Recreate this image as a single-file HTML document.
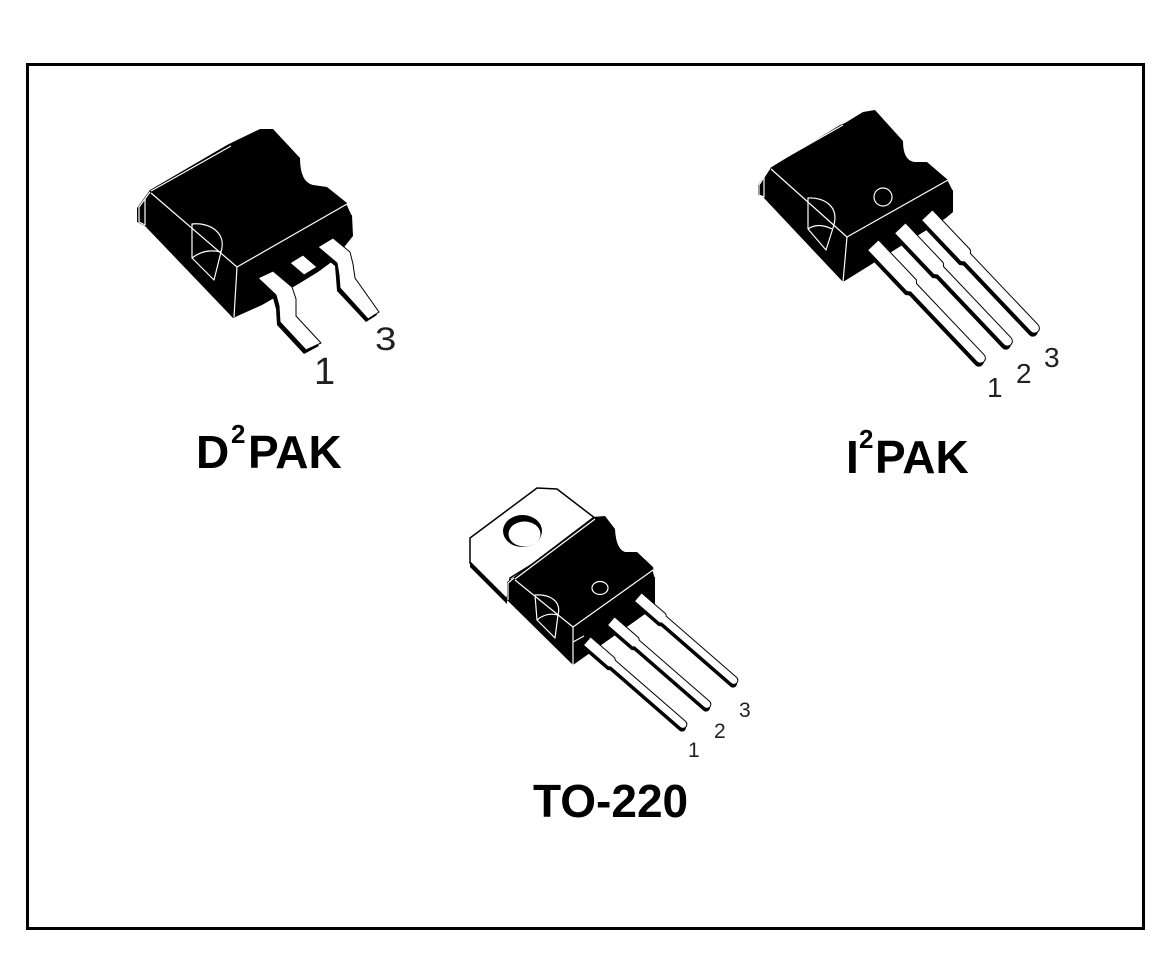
<!DOCTYPE html>
<html>
<head>
<meta charset="utf-8">
<style>
  html,body{margin:0;padding:0;background:#fff;}
  body{width:1176px;height:962px;overflow:hidden;}
  svg{display:block;}
  .t{font-family:"Liberation Sans",Arial,sans-serif;font-weight:bold;fill:#000;}
  .n{font-family:"Liberation Sans",Arial,sans-serif;fill:#231f20;}
</style>
</head>
<body>
<svg width="1176" height="962" viewBox="0 0 1176 962" xmlns="http://www.w3.org/2000/svg">
  <rect x="0" y="0" width="1176" height="962" fill="#fff"/>
  <!-- frame -->
  <rect x="27.5" y="64.5" width="1116" height="864" fill="none" stroke="#000" stroke-width="3"/>

  <!-- ================= D2PAK ================= -->
  <g>
    <path d="M260,129 L273,129 L300,158 Q300,182 313,185 L327,187 L347,203 L352,215 L353,236 L345,246 L337,258 L318,272 L300,283 L283,293 L262,305 L233,318 L145,226 L137,222 L137,208 L150,190 L227,145 L233,142 Z" fill="#000"/>
    <g fill="none" stroke="#fff" stroke-width="1.2" stroke-linejoin="round">
      <path d="M151,191 L231,146"/>
      <path d="M151,193 L237,267"/>
      <path d="M237,267 L347,204 L352,215"/>
      <path d="M237,267 L234,317"/>
      <path d="M150,192 L139,207 L139,222 L145,225 L145,199"/>
      <path d="M192,224 C210,222 227,233 221,252 L214,280 L192,258 Z"/>
      <path d="M192,258 Q205,248 221,252"/>
      <path d="M301,160 Q302,180 313,184" stroke-width="1"/>
    </g>
    <!-- lead 3 -->
    <path d="M316,250 L331,241 L348,255 L351,267 L353,281 L377,315 L366,322 L337,291 L336,278 L335,266 Z" fill="#000"/>
    <path d="M318,247 L333,238 L350,252 L353,264 L355,278 L379,312 L368,319 L340,288 L339,275 L337,263 Z" fill="#fff" stroke="#000" stroke-width="1"/>
    <!-- center tab -->
    <path d="M290,263 L304,276 L317,268 L317,272 L304,280 L290,267 Z" fill="#000"/>
    <path d="M290,263 L303,255 L317,267 L304,275 Z" fill="#fff" stroke="#000" stroke-width="1"/>
    <!-- lead 1 -->
    <path d="M256,281 L271,274 L290,290 L294,302 L294,319 L319,346 L304,354 L277,325 L276,309 L273,298 Z" fill="#000"/>
    <path d="M258,278 L273,271 L292,287 L296,299 L296,316 L321,343 L306,350 L280,322 L279,306 L276,295 Z" fill="#fff" stroke="#000" stroke-width="1"/>
    <text class="n" x="0" y="0" font-size="32" transform="translate(375,350) scale(1.2,1)">3</text>
    <text class="n" x="314" y="384" font-size="38">1</text>
  </g>
  <text class="t" x="196" y="468" font-size="46">D</text>
  <text class="t" x="231" y="443" font-size="26">2</text>
  <text class="t" x="248" y="468" font-size="46">PAK</text>

  <!-- ================= I2PAK ================= -->
  <g>
    <path d="M863,112 L875,110 L903,141 Q903,160 914,162 L927,162 L948,180 L953,190 L953,212 L946,218 L843,282 L763,197 L758,195 L758,185 L770,168 L840,125 L845,123 Z" fill="#000"/>
    <g fill="none" stroke="#fff" stroke-width="1.2" stroke-linejoin="round">
      <path d="M771,166 L843,125"/>
      <path d="M771,169 L847,237"/>
      <path d="M847,237 L948,180 L953,190"/>
      <path d="M847,237 L843,282"/>
      <path d="M770,168 L759,185 L759,195 L764,197 L764,176"/>
      <path d="M808,198 C822,197 841,205 833,228 L826,250 L808,229 Z"/>
      <path d="M808,229 Q818,222 832,229"/>
      <circle cx="883" cy="197" r="9"/>
      <path d="M904,143 Q905,160 914,161" stroke-width="1"/>
    </g>
    <!-- leads: 3,2,1 -->
    <g transform="translate(927,215) rotate(46.5)">
      <path d="M0,-7.5 L55,-7.5 L58,-5 L156,-5 A5,5 0 0 1 156,5 L60,5 L57,7.5 L0,7.5 Z" fill="#000" transform="translate(1.5,3.5)"/>
      <path d="M0,-7.5 L55,-7.5 L58,-5 L156,-5 A5,5 0 0 1 156,5 L60,5 L57,7.5 L0,7.5 Z" fill="#fff" stroke="#000" stroke-width="1"/>
    </g>
    <g transform="translate(900,228) rotate(46.5)">
      <path d="M0,-7.5 L55,-7.5 L58,-5 L156,-5 A5,5 0 0 1 156,5 L60,5 L57,7.5 L0,7.5 Z" fill="#000" transform="translate(1.5,3.5)"/>
      <path d="M0,-7.5 L55,-7.5 L58,-5 L156,-5 A5,5 0 0 1 156,5 L60,5 L57,7.5 L0,7.5 Z" fill="#fff" stroke="#000" stroke-width="1"/>
    </g>
    <g transform="translate(873,245) rotate(46.5)">
      <path d="M0,-7.5 L55,-7.5 L58,-5 L156,-5 A5,5 0 0 1 156,5 L60,5 L57,7.5 L0,7.5 Z" fill="#000" transform="translate(1.5,3.5)"/>
      <path d="M0,-7.5 L55,-7.5 L58,-5 L156,-5 A5,5 0 0 1 156,5 L60,5 L57,7.5 L0,7.5 Z" fill="#fff" stroke="#000" stroke-width="1"/>
    </g>
    <text class="n" x="987" y="397" font-size="28">1</text>
    <text class="n" x="1016" y="383" font-size="28">2</text>
    <text class="n" x="1044" y="367" font-size="28">3</text>
  </g>
  <text class="t" x="846" y="473" font-size="46">I</text>
  <text class="t" x="859" y="448" font-size="26">2</text>
  <text class="t" x="875" y="473" font-size="46">PAK</text>

  <!-- ================= TO-220 ================= -->
  <g>
    <!-- tab -->
    <path d="M470,538 L537,488 L557,489 L600,522 L510,578 L507,600 L470,563 Z" fill="#fff" stroke="#000" stroke-width="1.5" stroke-linejoin="round"/>
    <path d="M470,561 L507,598 L507,604 L470,567 Z" fill="#000"/>
    <ellipse cx="522.5" cy="531" rx="19.5" ry="16" fill="#000"/>
    <ellipse cx="524.5" cy="534" rx="16" ry="12.5" fill="#fff"/>
    <!-- body -->
    <path d="M593,517 L605,516 L615,529 Q616,549 625,552 L637,552 L653,567 L655,577 L655,607 L573,665 L507,600 L507,582 L514,577 Z" fill="#000"/>
    <g fill="none" stroke="#fff" stroke-width="1.2" stroke-linejoin="round">
      <path d="M515,579 L595,519"/>
      <path d="M515,580 L573,627"/>
      <path d="M573,627 L653,570 L655,577"/>
      <path d="M573,627 L573,665"/>
      <path d="M573,642 L584,636"/>
      <path d="M514,578 L508,583 L508,600"/>
      <path d="M535,595 C548,594 562,600 558,615 L555,638 L537,620 Z"/>
      <path d="M537,620 Q546,612 558,615"/>
      <ellipse cx="600" cy="588" rx="8" ry="6.5"/>
      <path d="M616,531 Q617,548 625,551" stroke-width="1"/>
    </g>
    <!-- leads 3,2,1 -->
    <g transform="translate(638,597) rotate(41)">
      <path d="M0,-5.5 L32,-5.5 L34,-4 L127,-4 A4,4 0 0 1 127,4 L35,4 L33,5.5 L0,5.5 Z" fill="#000" transform="translate(1.5,3)"/>
      <path d="M0,-5.5 L32,-5.5 L34,-4 L127,-4 A4,4 0 0 1 127,4 L35,4 L33,5.5 L0,5.5 Z" fill="#fff" stroke="#000" stroke-width="1"/>
    </g>
    <g transform="translate(611,621) rotate(41)">
      <path d="M0,-5.5 L32,-5.5 L34,-4 L127,-4 A4,4 0 0 1 127,4 L35,4 L33,5.5 L0,5.5 Z" fill="#000" transform="translate(1.5,3)"/>
      <path d="M0,-5.5 L32,-5.5 L34,-4 L127,-4 A4,4 0 0 1 127,4 L35,4 L33,5.5 L0,5.5 Z" fill="#fff" stroke="#000" stroke-width="1"/>
    </g>
    <g transform="translate(587,641) rotate(41)">
      <path d="M0,-5.5 L32,-5.5 L34,-4 L127,-4 A4,4 0 0 1 127,4 L35,4 L33,5.5 L0,5.5 Z" fill="#000" transform="translate(1.5,3)"/>
      <path d="M0,-5.5 L32,-5.5 L34,-4 L127,-4 A4,4 0 0 1 127,4 L35,4 L33,5.5 L0,5.5 Z" fill="#fff" stroke="#000" stroke-width="1"/>
    </g>
    <text class="n" x="688" y="757" font-size="21">1</text>
    <text class="n" x="714" y="738" font-size="21">2</text>
    <text class="n" x="739" y="717" font-size="21">3</text>
  </g>
  <text class="t" x="533" y="817" font-size="46">TO-220</text>
</svg>
</body>
</html>
